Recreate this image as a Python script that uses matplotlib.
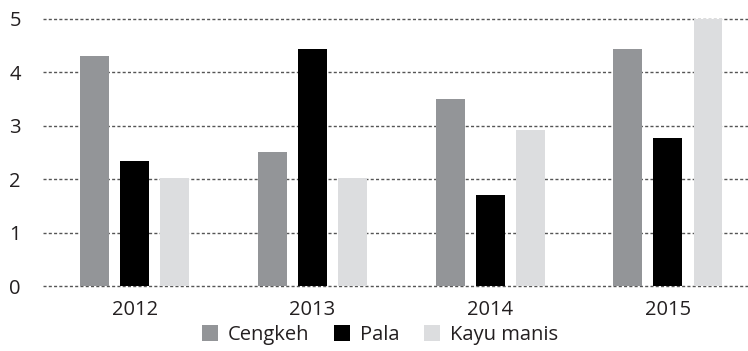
import numpy as np
import matplotlib
matplotlib.use("Agg")
import matplotlib.pyplot as plt

# Data
years = ["2012", "2013", "2014", "2015"]
cengkeh = [4.3, 2.5, 3.5, 4.43]
pala = [2.35, 4.43, 1.7, 2.77]
kayu_manis = [2.03, 2.03, 2.93, 5.0]

series_names = ["Cengkeh", "Pala", "Kayu manis"]
series_colors = ["#939598", "#000000", "#dcdddf"]
text_color = "#231f20"

plt.rcParams["font.family"] = ["Open Sans", "DejaVu Sans"]

fig = plt.figure(figsize=(7.48, 3.51), dpi=100)
ax = fig.add_axes([43 / 748, 65 / 351, 1 - 43 / 748, 277.7 / 351])

x = np.arange(len(years))
width = 0.163
offset = 0.225
for i, (vals, name, col) in enumerate(zip([cengkeh, pala, kayu_manis], series_names, series_colors)):
    ax.bar(x + (i - 1) * offset, vals, width, color=col, label=name, zorder=3)

ax.set_xlim(-0.515, 3.45)
ax.set_ylim(0, 5.2)
ax.set_yticks([0, 1, 2, 3, 4, 5])
ax.set_xticks(x)
ax.set_xticklabels(years)

# dashed horizontal grid, drawn behind bars
for yv in range(6):
    ax.axhline(yv, color="#555555", lw=1.0, ls=(0, (2.2, 1.6)), zorder=1, clip_on=False)

for s in ax.spines.values():
    s.set_visible(False)
ax.tick_params(axis="both", length=0, labelsize=14.5, colors=text_color)
ax.tick_params(axis="y", pad=16)
ax.tick_params(axis="x", pad=10)

handles, labels = ax.get_legend_handles_labels()
fig.legend(handles, labels, loc="lower center", bbox_to_anchor=(380 / 748, -0.035), ncol=3,
           frameon=False, fontsize=14.5, handlelength=0.8, handleheight=0.8,
           handletextpad=0.5, columnspacing=1.2, labelcolor=text_color)

fig.savefig("out.png", dpi=100)
